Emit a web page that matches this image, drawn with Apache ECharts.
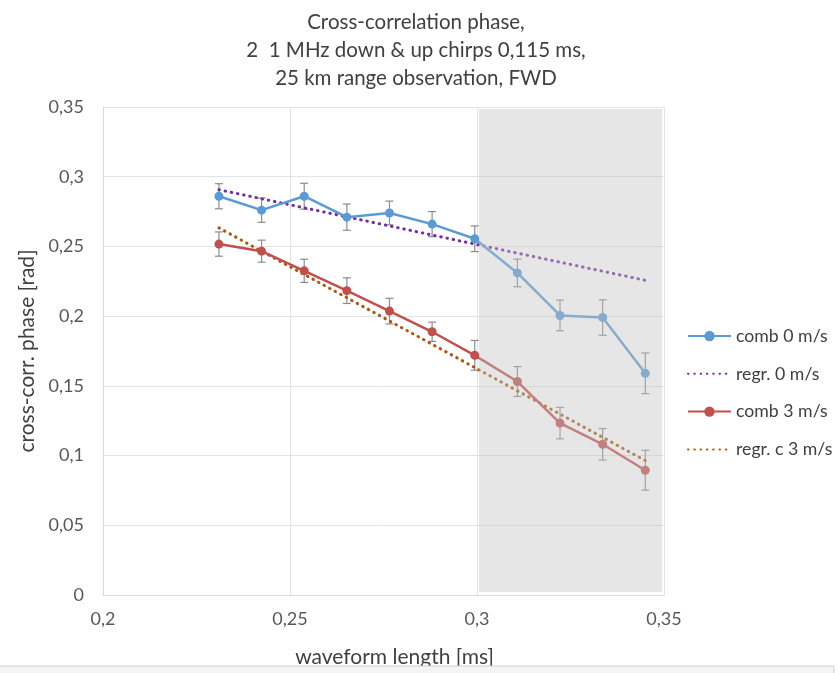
<!DOCTYPE html>
<html>
<head>
<meta charset="utf-8">
<script src="https://cdn.jsdelivr.net/npm/echarts@6/dist/echarts.min.js"></script>
<style>
html,body{margin:0;padding:0;background:#fff;}
#chart{width:839px;height:673px;}
</style>
</head>
<body>
<div id="chart"></div>
<script>
// ---- data ----
const titleLines = ['Cross-correlation phase,', '2  1 MHz down & up chirps 0,115 ms,', '25 km range observation, FWD'];
const xValues = [0.231, 0.2424, 0.2538, 0.2652, 0.2766, 0.288, 0.2994, 0.3108, 0.3222, 0.3336, 0.345];
const comb0 = [0.286, 0.276, 0.286, 0.271, 0.274, 0.266, 0.2555, 0.231, 0.2005, 0.199, 0.159];
const comb0Err = [0.009, 0.0087, 0.0093, 0.0094, 0.0085, 0.009, 0.0092, 0.0099, 0.011, 0.0127, 0.0146];
const comb3 = [0.2517, 0.2466, 0.2325, 0.2183, 0.2036, 0.1888, 0.1719, 0.1531, 0.1233, 0.1081, 0.0895];
const comb3Err = [0.0087, 0.0079, 0.0083, 0.0092, 0.0092, 0.0069, 0.0107, 0.0107, 0.0113, 0.0113, 0.0143];
const regrX = [0.231, 0.345];
const regr0 = [0.2907, 0.2257];
const regr3 = [0.2633, 0.0964];
const shadeRange = [0.3, 0.3495];
const seriesNames = ['comb 0 m/s', 'regr. 0 m/s', 'comb 3 m/s', 'regr. c 3 m/s'];
const xAxisName = 'waveform length [ms]';
const yAxisName = 'cross-corr. phase [rad]';

const FONT = 'Lato, "Liberation Sans", sans-serif';
const fmt = v => String(+(+v).toFixed(3)).replace('.', ',');
const pairs = (xs, ys) => xs.map((x, i) => [x, ys[i]]);
const errData = (xs, ys, es) => xs.map((x, i) => [x, ys[i] - es[i], ys[i] + es[i]]);

function errRender(params, api) {
  const x = api.value(0);
  const lo = api.coord([x, api.value(1)]);
  const hi = api.coord([x, api.value(2)]);
  const cap = 4;
  const style = { stroke: '#8c8c8c', lineWidth: 1.2, fill: null };
  return {
    type: 'group',
    children: [
      { type: 'line', shape: { x1: lo[0], y1: lo[1], x2: hi[0], y2: hi[1] }, style },
      { type: 'line', shape: { x1: lo[0] - cap, y1: lo[1], x2: lo[0] + cap, y2: lo[1] }, style },
      { type: 'line', shape: { x1: hi[0] - cap, y1: hi[1], x2: hi[0] + cap, y2: hi[1] }, style }
    ]
  };
}

const chart = echarts.init(document.getElementById('chart'));
chart.setOption({
  backgroundColor: '#ffffff',
  animation: false,
  title: {
    text: titleLines.join('\n'),
    left: 411, top: 3, textAlign: 'center',
    textStyle: { fontFamily: FONT, fontSize: 20.5, fontWeight: 'normal', color: '#404040', lineHeight: 28 }
  },
  legend: {
    orient: 'vertical',
    left: 682, top: 322,
    itemWidth: 43, itemHeight: 13, itemGap: 19.8,
    data: [
      { name: seriesNames[0] },
      { name: seriesNames[1], itemStyle: { opacity: 0 } },
      { name: seriesNames[2] },
      { name: seriesNames[3], itemStyle: { opacity: 0 } }
    ],
    textStyle: { fontFamily: FONT, fontSize: 17.7, color: '#404040', padding: [0, 0, 0, 0] }
  },
  grid: { left: 103, right: 175, top: 107, bottom: 77 },
  xAxis: {
    type: 'value', min: 0.2, max: 0.35, interval: 0.05,
    name: xAxisName, nameLocation: 'middle', nameGap: 52,
    nameTextStyle: { fontFamily: FONT, fontSize: 21, color: '#404040', padding: [0, 0, 0, 22] },
    axisLine: { show: true, lineStyle: { color: '#d9d9d9' } },
    axisTick: { show: false },
    splitLine: { show: true, lineStyle: { color: '#e3e3e3' } },
    axisLabel: { formatter: fmt, fontFamily: FONT, fontSize: 18, color: '#595959', margin: 15 }
  },
  yAxis: {
    type: 'value', min: 0, max: 0.35, interval: 0.05,
    name: yAxisName, nameLocation: 'middle', nameGap: 60, nameRotate: 90,
    nameTextStyle: { fontFamily: FONT, fontSize: 21, color: '#404040' },
    axisLine: { show: true, lineStyle: { color: '#d9d9d9' } },
    axisTick: { show: false },
    splitLine: { show: true, lineStyle: { color: '#e3e3e3' } },
    axisLabel: { formatter: fmt, fontFamily: FONT, fontSize: 18, color: '#595959', margin: 19 }
  },
  series: [
    {
      type: 'custom', name: 'err0', renderItem: errRender, z: 1,
      data: errData(xValues, comb0, comb0Err), encode: { x: 0, y: [1, 2] }, silent: true
    },
    {
      type: 'custom', name: 'err3', renderItem: errRender, z: 1,
      data: errData(xValues, comb3, comb3Err), encode: { x: 0, y: [1, 2] }, silent: true
    },
    {
      name: seriesNames[0], type: 'line', z: 3,
      data: pairs(xValues, comb0),
      symbol: 'circle', symbolSize: 9, showAllSymbol: true,
      itemStyle: { color: '#5b9bd5' },
      lineStyle: { color: '#5b9bd5', width: 2.5 }
    },
    {
      name: seriesNames[1], type: 'line', z: 2,
      data: pairs(regrX, regr0),
      symbol: 'none',
      itemStyle: { color: '#7030a0' },
      lineStyle: { color: '#7030a0', width: 3, type: [0.5, 5.8], cap: 'round' }
    },
    {
      name: seriesNames[2], type: 'line', z: 3,
      data: pairs(xValues, comb3),
      symbol: 'circle', symbolSize: 9, showAllSymbol: true,
      itemStyle: { color: '#c0504d' },
      lineStyle: { color: '#c0504d', width: 2.5 }
    },
    {
      name: seriesNames[3], type: 'line', z: 2,
      data: pairs(regrX, regr3),
      symbol: 'none',
      itemStyle: { color: '#a9570f' },
      lineStyle: { color: '#a9570f', width: 3, type: [0.5, 5.8], cap: 'round' }
    },
    {
      type: 'custom', name: 'shade', z: 10, silent: true,
      data: [[shadeRange[0], shadeRange[1]]],
      encode: { x: [0, 1] },
      renderItem: function (params, api) {
        const tl = api.coord([api.value(0), 0.35]);
        const br = api.coord([api.value(1), 0]);
        return {
          type: 'rect',
          shape: { x: tl[0] + 2, y: tl[1] + 2, width: br[0] - tl[0] - 2, height: br[1] - tl[1] - 5 },
          style: { fill: 'rgba(195,195,195,0.42)', stroke: null }
        };
      }
    }
  ],
  graphic: [
    {
      type: 'rect', z: 100,
      shape: { x: -2, y: 666, width: 836, height: 20 },
      style: { fill: '#f4f4f4', stroke: '#cfcfcf', lineWidth: 1 }
    }
  ]
});
</script>
</body>
</html>
